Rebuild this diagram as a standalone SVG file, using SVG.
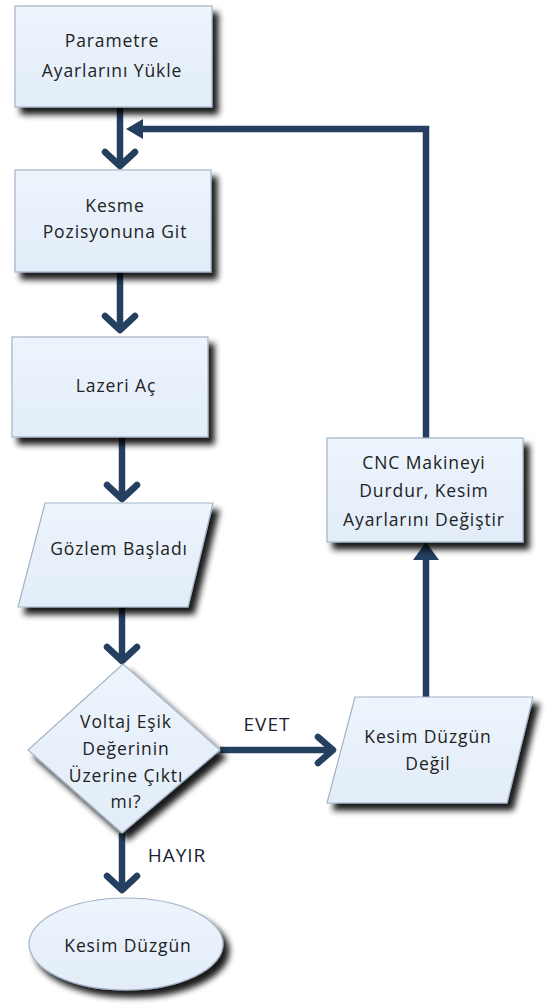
<svg xmlns="http://www.w3.org/2000/svg" width="547" height="1007" viewBox="0 0 547 1007">
<defs>
<filter id="sh" x="-20%" y="-20%" width="150%" height="160%">
<feGaussianBlur in="SourceAlpha" stdDeviation="3.2"/>
<feOffset dx="6" dy="7" result="b"/>
<feComponentTransfer><feFuncA type="linear" slope="0.9"/></feComponentTransfer>
<feMerge><feMergeNode/><feMergeNode in="SourceGraphic"/></feMerge>
</filter>
<linearGradient id="fg" x1="0" y1="0" x2="0" y2="1">
<stop offset="0" stop-color="#edf4fc"/>
<stop offset="1" stop-color="#e2edf9"/>
</linearGradient>
</defs>
<style>
.n{fill:url(#fg);stroke:#a3b3c6;stroke-width:1.2;filter:url(#sh)}
.t{font-family:"Open Sans","Liberation Sans",sans-serif;font-size:17.5px;letter-spacing:0.9px;fill:#222222;text-anchor:middle;dominant-baseline:central}
.l{font-family:"Open Sans","Liberation Sans",sans-serif;font-size:19px;letter-spacing:1px;fill:#1a2436;text-anchor:middle;dominant-baseline:central}
.c{fill:none;stroke:#243f60;stroke-width:6.5}
.h{fill:none;stroke:#243f60;stroke-width:6.5;stroke-linecap:round;stroke-linejoin:round}
</style>
<g id="connectors">
<line class="c" x1="120" y1="108" x2="120" y2="166"/>
<polyline class="h" points="105,152 120,166 135,152"/>
<line class="c" x1="120" y1="272" x2="120" y2="330"/>
<polyline class="h" points="105,316 120,330 135,316"/>
<line class="c" x1="122" y1="437" x2="122" y2="499"/>
<polyline class="h" points="107,485 122,499 137,485"/>
<line class="c" x1="122" y1="607" x2="122" y2="661"/>
<polyline class="h" points="107,647 122,661 137,647"/>
<line class="c" x1="122" y1="833" x2="122" y2="890"/>
<polyline class="h" points="107,876 122,890 137,876"/>
<line class="c" x1="220" y1="750" x2="333" y2="750"/>
<polyline class="h" points="318,737 333,750 318,763"/>
<line class="c" x1="426" y1="697" x2="426" y2="558"/>
<path d="M426,542 L439,560 L413,560 z" fill="#243f60"/>
<polyline class="c" points="426,438 426,129 140,129" stroke-linejoin="miter"/>
<path d="M126,129 L143,119 L143,139 z" fill="#243f60"/>
<text class="l" x="267" y="724">EVET</text>
<text class="l" x="177" y="855">HAYIR</text>
</g>
<g id="n1">
<rect class="n" x="15" y="6" width="197" height="101"/>
<text class="t" x="112" y="40">Parametre</text>
<text class="t" x="112" y="70">Ayarlarını Yükle</text>
</g>
<g id="n2">
<rect class="n" x="15" y="170" width="196" height="102"/>
<text class="t" x="115" y="205">Kesme</text>
<text class="t" x="115" y="231">Pozisyonuna Git</text>
</g>
<g id="n3">
<rect class="n" x="12" y="337" width="196" height="100"/>
<text class="t" x="116" y="385">Lazeri Aç</text>
</g>
<g id="n4">
<polygon class="n" points="45,503 213,503 188,607 18,607"/>
<text class="t" x="119" y="548">Gözlem Başladı</text>
</g>
<g id="n5">
<polygon class="n" points="123,664 220,750 122,833 28,750"/>
<text class="t" x="126" y="721">Voltaj Eşik</text>
<text class="t" x="126" y="748">Değerinin</text>
<text class="t" x="126" y="775">Üzerine Çıktı</text>
<text class="t" x="126" y="801">mı?</text>
</g>
<g id="n6">
<polygon class="n" points="355,697 533,697 507,803 327,803"/>
<text class="t" x="428" y="736">Kesim Düzgün</text>
<text class="t" x="428" y="763">Değil</text>
</g>
<g id="n7">
<rect class="n" x="327" y="438" width="196" height="104"/>
<text class="t" x="424" y="462">CNC Makineyi</text>
<text class="t" x="424" y="490">Durdur, Kesim</text>
<text class="t" x="424" y="519">Ayarlarını Değiştir</text>
</g>
<g id="n8">
<ellipse class="n" cx="126" cy="944" rx="97" ry="46"/>
<text class="t" x="128" y="945">Kesim Düzgün</text>
</g>
</svg>
